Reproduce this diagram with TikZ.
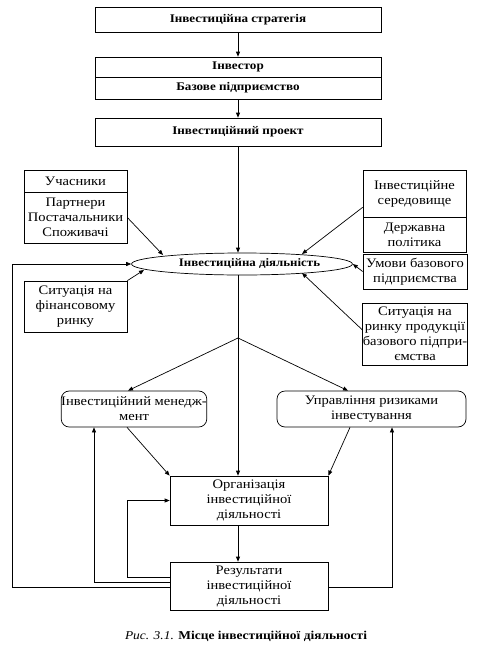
\documentclass[tikz,border=0pt]{standalone}
\usepackage{fontspec}
\setmainfont{Liberation Serif}[FakeStretch=1.12]
\usetikzlibrary{arrows.meta,calc,shapes.geometric}
\begin{document}
\begin{tikzpicture}[x=1pt,y=-1pt,
  line width=0.7pt,
  arr/.style={-{Triangle[length=5pt,width=4pt]}},
  topbox/.style={draw,rectangle,minimum width=286pt,inner sep=0pt,font=\fontsize{11.7}{14}\selectfont\bfseries},
  sbox/.style={draw,rectangle,minimum width=103pt,inner sep=0pt,align=center,font=\fontsize{13}{15}\selectfont},
  rbox/.style={draw,rectangle,rounded corners=8pt,inner sep=0pt,align=center,font=\fontsize{13}{15}\selectfont},
  cbox/.style={draw,rectangle,minimum width=158pt,inner sep=0pt,align=center,font=\fontsize{13}{15}\selectfont}
]
\useasboundingbox (0,0) rectangle (477,648);
% top chain
\node[topbox,minimum height=25pt] (b1) at (238,19.5) {Інвестиційна стратегія};
\node[topbox,minimum height=20pt] (b2t) at (238,67) {Інвестор};
\node[topbox,minimum height=22pt] (b2b) at (238,88) {Базове підприємство};
\node[topbox,minimum height=28pt] (b3) at (238,132) {Інвестиційний проект};
% ellipse
\node[draw,ellipse,minimum width=210pt,minimum height=22pt,inner sep=0pt,font=\fontsize{11.5}{14}\selectfont\bfseries] (ell) at (242,264) {\hspace*{15pt}Інвестиційна діяльність};
% left boxes
\node[sbox,minimum height=22pt] (partt) at (75.5,181) {Учасники};
\node[sbox,minimum height=51pt] (partb) at (75.5,217.5) {Партнери\\Постачальники\\Споживачі};
\node[sbox,minimum height=51pt] (fin) at (75.5,306.5) {Ситуація на\\фінансовому\\ринку};
% right boxes
\node[sbox,minimum height=47pt] (envt) at (414.5,193.5) {Інвестиційне\\середовище};
\node[sbox,minimum height=35pt] (envb) at (414.5,234.5) {Державна\\політика};
\node[sbox,minimum height=35pt,minimum width=104pt] (cond) at (415,271.5) {Умови базового\\підприємства};
\node[sbox,minimum height=62pt,minimum width=104pt] (mkt) at (415,334) {Ситуація на\\ринку продукції\\базового підпри-\\ємства};
% middle
\node[rbox,minimum width=138pt,minimum height=36pt] (mgmt) at (134,409) {Інвестиційний менедж-\\мент};
\node[rbox,minimum width=189pt,minimum height=36pt] (risk) at (371.5,409) {Управління ризиками\\інвестування};
\node[cbox,minimum height=49pt] (org) at (249,500.5) {Організація\\інвестиційної\\діяльності};
\node[cbox,minimum height=48pt] (res) at (249,586) {Результати\\інвестиційної\\діяльності};
% caption
\node[inner sep=0pt,font=\fontsize{12}{14}\selectfont] (cap) at (246,636) {\textit{Рис. 3.1.} \textbf{Місце інвестиційної діяльності}};
% top arrows
\draw[arr] (b1.south) -- (b2t.north);
\draw[arr] (b2b.south) -- (b3.north);
\draw[arr] (b3.south) -- (b3.south |- ell.north);
% influences on ellipse
\draw[arr] (partb.east) -- ($(ell.center)+(-79,-9)$);
\draw[arr] ($(envt.south west)+(0,-10)$) -- ($(ell.center)+(60,-10)$);
\draw[arr] (cond.west) -- (ell.east);
\draw[arr] ($(mkt.west)+(0,-4)$) -- ($(ell.center)+(60,9)$);
\draw[arr] (fin.north east) -- ($(ell.center)+(-98,6)$);
% main flow
\coordinate (br) at (238,338);
\draw (b3.south |- ell.south) -- (br);
\draw[arr] (br) -- (br |- org.north);
\draw[arr] (br) -- ($(mgmt.north)+(-6,0)$);
\draw[arr] (br) -- ($(risk.north)+(-23.5,0)$);
\draw[arr] ($(mgmt.south)+(-7,0)$) -- (org.north west);
\draw[arr] ($(risk.south)+(-21.5,0)$) -- (org.north east);
\draw[arr] (br |- org.south) -- (br |- res.north);
% feedback loops
\coordinate (L1) at (12,264);
\coordinate (L3) at (127,500.5);
\draw[arr] ($(res.west)+(0,1)$) -| (L1) -- (ell.west);
\draw[arr] ($(res.west)+(0,-4)$) -| ($(mgmt.south)+(-40,0)$);
\draw[arr] ($(res.west)+(0,-9)$) -| (L3) -- (org.west);
\draw[arr] ($(res.east)+(0,1)$) -| ($(risk.south)+(20.5,0)$);
\end{tikzpicture}
\end{document}
